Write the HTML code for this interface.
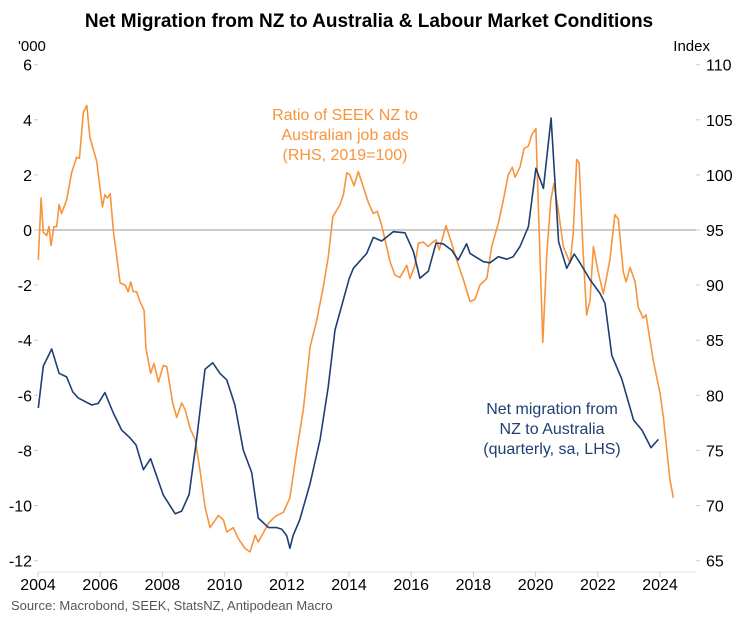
<!DOCTYPE html>
<html><head><meta charset="utf-8"><style>
body{margin:0;background:#fff;}
svg text{font-family:"Liberation Sans",Arial,sans-serif;}
</style></head><body>
<svg id="chart" width="738" height="627" viewBox="0 0 738 627" xmlns="http://www.w3.org/2000/svg">
<rect width="738" height="627" fill="#fff"/>
<text x="369" y="27" text-anchor="middle" font-size="19" font-weight="bold" fill="#000">Net Migration from NZ to Australia &amp; Labour Market Conditions</text>
<text x="18" y="51" font-size="15" fill="#000">'000</text>
<text x="710" y="51" text-anchor="end" font-size="15" fill="#000">Index</text>
<g id="axes"></g>
<g id="series"></g>
<text text-anchor="middle" font-size="16" fill="#f7943c"><tspan x="345" y="120">Ratio of SEEK NZ to</tspan><tspan x="345" y="140">Australian job ads</tspan><tspan x="345" y="160">(RHS, 2019=100)</tspan></text>
<text text-anchor="middle" font-size="16" fill="#1f3f73"><tspan x="552" y="414">Net migration from</tspan><tspan x="552" y="434">NZ to Australia</tspan><tspan x="552" y="454">(quarterly, sa, LHS)</tspan></text>
<text x="11" y="610" font-size="13" fill="#555">Source: Macrobond, SEEK, StatsNZ, Antipodean Macro</text>
</svg>
<script>
const xTicks=[2004,2006,2008,2010,2012,2014,2016,2018,2020,2022,2024];
const leftTicks=[6,4,2,0,-2,-4,-6,-8,-10,-12];
const rightTicks=[110,105,100,95,90,85,80,75,70,65];
const blueDates=[2004.01,2004.17,2004.44,2004.68,2004.92,2005.12,2005.30,2005.73,2005.94,2006.15,2006.42,2006.69,2006.96,2007.15,2007.39,2007.62,2008.03,2008.41,2008.62,2008.86,2009.10,2009.37,2009.62,2009.85,2010.07,2010.33,2010.60,2010.87,2011.08,2011.41,2011.68,2011.84,2012.00,2012.10,2012.20,2012.42,2012.75,2013.07,2013.33,2013.55,2014.01,2014.14,2014.57,2014.78,2015.05,2015.42,2015.80,2016.07,2016.28,2016.55,2016.80,2017.03,2017.30,2017.51,2017.78,2017.89,2018.32,2018.53,2018.80,2019.07,2019.28,2019.50,2019.77,2020.01,2020.25,2020.50,2020.74,2021.00,2021.24,2021.43,2021.75,2022.07,2022.23,2022.45,2022.77,2023.15,2023.42,2023.71,2023.95];
const blueValues=[-6.46,-4.94,-4.32,-5.2,-5.33,-5.88,-6.1,-6.35,-6.29,-5.9,-6.64,-7.26,-7.55,-7.8,-8.7,-8.3,-9.62,-10.3,-10.2,-9.6,-7.6,-5.05,-4.82,-5.2,-5.44,-6.35,-7.99,-8.8,-10.45,-10.8,-10.8,-10.86,-11.1,-11.55,-11.1,-10.5,-9.2,-7.6,-5.7,-3.63,-1.75,-1.39,-0.85,-0.27,-0.4,-0.06,-0.1,-0.78,-1.75,-1.5,-0.47,-0.5,-0.73,-1.09,-0.5,-0.85,-1.15,-1.19,-0.97,-1.06,-0.97,-0.6,0.12,2.24,1.51,4.06,-0.43,-1.39,-0.87,-1.2,-1.8,-2.3,-2.66,-4.55,-5.4,-6.9,-7.26,-7.9,-7.6];
const orangeDates=[2004.01,2004.10,2004.17,2004.28,2004.35,2004.42,2004.51,2004.60,2004.68,2004.76,2004.92,2005.08,2005.24,2005.33,2005.46,2005.57,2005.67,2005.89,2005.97,2006.07,2006.15,2006.23,2006.32,2006.42,2006.64,2006.80,2006.90,2006.98,2007.06,2007.17,2007.28,2007.41,2007.47,2007.62,2007.73,2007.87,2008.03,2008.14,2008.33,2008.46,2008.62,2008.73,2008.89,2009.05,2009.21,2009.37,2009.53,2009.80,2009.96,2010.07,2010.28,2010.44,2010.66,2010.82,2010.98,2011.08,2011.24,2011.41,2011.62,2011.89,2012.10,2012.32,2012.53,2012.75,2012.96,2013.17,2013.33,2013.48,2013.71,2013.82,2013.93,2014.03,2014.16,2014.30,2014.46,2014.62,2014.78,2014.91,2015.05,2015.16,2015.32,2015.48,2015.64,2015.86,2015.96,2016.12,2016.23,2016.39,2016.55,2016.66,2016.80,2016.90,2017.12,2017.30,2017.46,2017.68,2017.89,2018.05,2018.21,2018.43,2018.59,2018.80,2018.96,2019.12,2019.25,2019.34,2019.50,2019.63,2019.77,2019.87,2020.01,2020.05,2020.23,2020.36,2020.49,2020.59,2020.73,2020.89,2021.11,2021.21,2021.32,2021.40,2021.53,2021.64,2021.75,2021.86,2022.02,2022.18,2022.39,2022.55,2022.66,2022.82,2022.91,2023.04,2023.20,2023.30,2023.46,2023.55,2023.78,2024.00,2024.11,2024.32,2024.43];
const orangeValues=[92.3,97.9,94.8,94.5,95.3,93.6,95.3,95.3,97.3,96.5,97.7,100.2,101.6,101.5,105.7,106.3,103.4,101.2,99.3,97.1,98.2,97.9,98.3,95,90.2,90.0,89.4,90.3,89.4,89.4,88.5,87.7,84.3,82,82.9,81.2,82.7,82.6,79.3,78,79.3,78.7,77,76,73.2,69.9,68,69.1,68.7,67.6,68,67,66.1,65.8,67.3,66.7,67.5,68.4,69,69.4,70.7,75,78.7,84.4,86.8,89.8,92.5,96.2,97.3,98.2,100.2,100,99,100.3,98.9,97.5,96.5,96.7,95.4,94.1,92.1,90.9,90.7,91.8,90.6,91.8,93.8,93.9,93.5,93.8,94.1,93.2,95.4,93.8,92.3,90.5,88.5,88.7,90,90.6,93.5,95.6,97.7,100,100.7,99.8,100.7,102.4,102.6,103.6,104.2,100.4,84.8,92.8,97.7,99.2,96.8,93.5,92,94.7,101.4,101.1,92.9,87.3,88.6,93.5,91.1,89.2,92.3,96.4,96,91.2,90.3,91.6,90.3,88,87,87.3,83.2,80.2,78,72.3,70.7];

const NS='http://www.w3.org/2000/svg';
const X0=38,X1=660,PL=38,PR=696;
function xs(t){return X0+(t-2004)*(X1-X0)/20;}
function yl(v){return 230-v*(561-65)/18;}
function yr(v){return 230-(v-95)*(561-65)/45;}
function mk(tag,attrs,parent){const e=document.createElementNS(NS,tag);for(const k in attrs)e.setAttribute(k,attrs[k]);parent.appendChild(e);return e;}
const ax=document.getElementById('axes'),sr=document.getElementById('series');
const base=mk('line',{x1:PL,x2:PR,y1:572,y2:572,stroke:'#e0e0e0','stroke-width':1},ax);


const zl=mk('line',{x1:PL,x2:PR,y1:yl(0),y2:yl(0),stroke:'#999','stroke-width':1},ax);


xTicks.forEach(t=>{
  const tk=mk('line',{x1:xs(t),x2:xs(t),y1:572,y2:577,stroke:'#ccc'},ax);
  
  
  const tx=mk('text',{x:xs(t),y:590,'text-anchor':'middle','font-size':16,fill:'#000'},ax);
  tx.textContent=t;
  
  
});
leftTicks.forEach(v=>{
  const tk=mk('line',{x1:PL-4,x2:PL,y1:yl(v),y2:yl(v),stroke:'#ccc'},ax);
  
  
  const tx=mk('text',{x:32,y:yl(v)+6,'text-anchor':'end','font-size':16,fill:'#000'},ax);
  tx.textContent=v;
  
  
});
rightTicks.forEach(v=>{
  const tk=mk('line',{x1:PR,x2:PR+4,y1:yr(v),y2:yr(v),stroke:'#ccc'},ax);
  
  
  const tx=mk('text',{x:706,y:yr(v)+6,'font-size':16,fill:'#000'},ax);
  tx.textContent=v;
  
  
});
const op=mk('polyline',{points:orangeDates.map((d,i)=>xs(d).toFixed(1)+','+yr(orangeValues[i]).toFixed(1)).join(' '),fill:'none',stroke:'#f7943c','stroke-width':1.6,'stroke-linejoin':'round'},sr);


const bp=mk('polyline',{points:blueDates.map((d,i)=>xs(d).toFixed(1)+','+yl(blueValues[i]).toFixed(1)).join(' '),fill:'none',stroke:'#1f3f73','stroke-width':1.6,'stroke-linejoin':'round'},sr);


</script>
</body></html>
